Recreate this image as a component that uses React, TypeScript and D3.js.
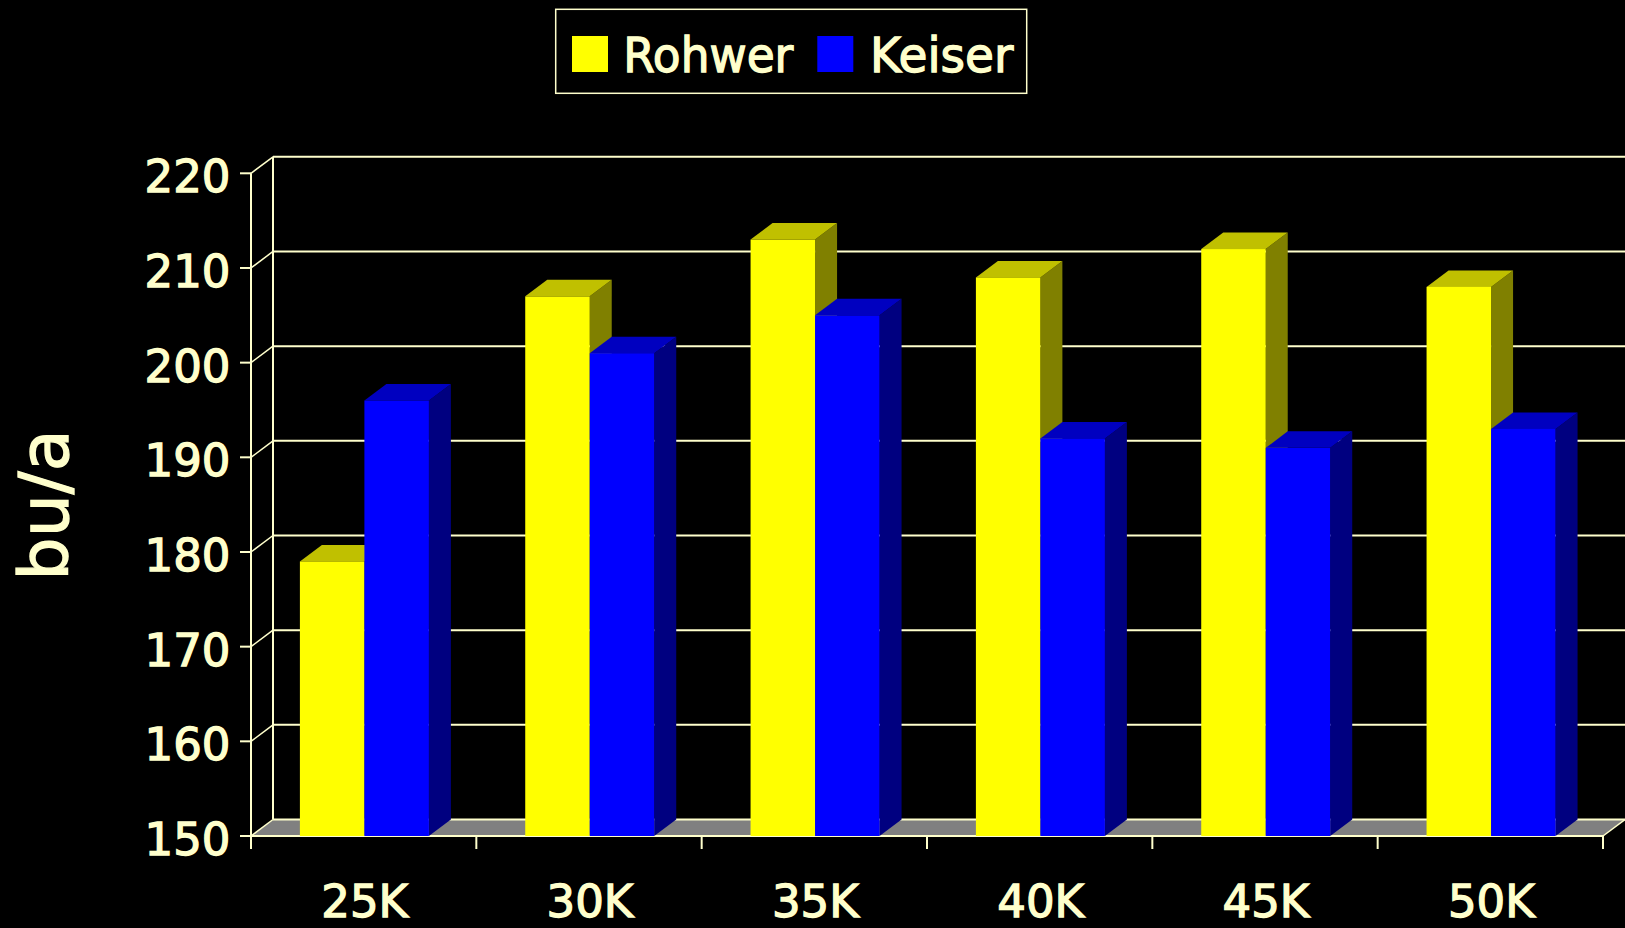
import React from "react";
import * as d3 from "d3";

const categories = ["25K", "30K", "35K", "40K", "45K", "50K"];
const seriesNames = ["Rohwer", "Keiser"];
const rohwer = [179, 207, 213, 209, 212, 208];
const keiser = [196, 201, 205, 192, 191, 193];
const yTicks = [150, 160, 170, 180, 190, 200, 210, 220];

const W = 1625;
const H = 928;
const DX = 22;
const DY = 16.5;
const CREAM = "#FFFFCC";
const FONT = "'DejaVu Sans', Verdana, sans-serif";
const TS = 1.3;

const frontColors = ["#FFFF00", "#0000FF"];
const topColors = ["#C0C000", "#0000C0"];
const sideColors = ["#808000", "#000080"];

export default function App() {
  const x = d3.scaleBand<string>().domain(categories).range([251, 1603]).padding(0);
  const y = d3.scaleLinear().domain([150, 220]).range([836, 173.3]);
  const bw = x.bandwidth();
  const sub = d3.scaleBand<string>().domain(seriesNames).range([bw * 0.217, bw * 0.217 + 129]).padding(0);
  const w = sub.bandwidth();
  const y0 = y(150);
  const xL = x.range()[0];
  const xR = x.range()[1];
  const data = [rohwer, keiser];

  return (
    <svg width={W} height={H} style={{ position: "absolute", left: 0, top: 0, background: "#000" }}>
      <rect x={0} y={0} width={W} height={H} fill="#000" />
      {/* floor */}
      <polygon
        points={`${xL},${y0} ${xR},${y0} ${xR + DX},${y0 - DY} ${xL + DX},${y0 - DY}`}
        fill="#808080"
      />
      {/* back gridlines, left wall diagonals, ticks */}
      {yTicks.map((t) => (
        <g key={t}>
          <line x1={xL + DX} x2={W} y1={y(t) - DY} y2={y(t) - DY} stroke={CREAM} strokeWidth={2} />
          <line x1={xL} x2={xL + DX} y1={y(t)} y2={y(t) - DY} stroke={CREAM} strokeWidth={1.5} />
          <line x1={240} x2={xL} y1={y(t)} y2={y(t)} stroke={CREAM} strokeWidth={2} />
          <text
            x={230.5}
            y={y(t) + 19}
            textAnchor="end"
            fill={CREAM}
            stroke={CREAM}
            strokeWidth={TS}
            fontFamily={FONT}
            fontSize={45}
          >
            {t}
          </text>
        </g>
      ))}
      <line x1={xL + DX} x2={xL + DX} y1={y(220) - DY} y2={y(150) - DY} stroke={CREAM} strokeWidth={2} />
      <line x1={xL} x2={xL} y1={y(220)} y2={849} stroke={CREAM} strokeWidth={2} />
      <line x1={xL} x2={xR} y1={y0} y2={y0} stroke={CREAM} strokeWidth={2} />
      <line x1={xR} x2={xR + DX} y1={y0} y2={y0 - DY} stroke={CREAM} strokeWidth={1.5} />
      {d3.range(categories.length + 1).map((i) => (
        <line key={i} x1={xL + i * bw} x2={xL + i * bw} y1={y0} y2={849} stroke={CREAM} strokeWidth={2} />
      ))}
      {/* bars */}
      {categories.map((c, i) => (
        <g key={c}>
          {seriesNames.map((s, j) => {
            const v = data[j][i];
            const x0 = (x(c) as number) + (sub(s) as number);
            const yt = y(v);
            return (
              <g key={s}>
                <polygon
                  points={`${x0 + w},${yt} ${x0 + w + DX},${yt - DY} ${x0 + w + DX},${y0 - DY} ${x0 + w},${y0}`}
                  fill={sideColors[j]}
                />
                <polygon
                  points={`${x0},${yt} ${x0 + w},${yt} ${x0 + w + DX},${yt - DY} ${x0 + DX},${yt - DY}`}
                  fill={topColors[j]}
                />
                <rect x={x0} y={yt} width={w} height={y0 - yt} fill={frontColors[j]} />
              </g>
            );
          })}
        </g>
      ))}
      {/* x labels */}
      {categories.map((c) => (
        <text
          key={c}
          x={(x(c) as number) + bw / 2 + 1}
          y={917}
          textAnchor="middle"
          fill={CREAM}
          stroke={CREAM}
          strokeWidth={TS}
          fontFamily={FONT}
          fontSize={45}
        >
          {c}
        </text>
      ))}
      {/* y title */}
      <text
        transform={`translate(68,505) rotate(-90)`}
        textAnchor="middle"
        fill={CREAM}
        stroke={CREAM}
        strokeWidth={TS}
        fontFamily={FONT}
        fontSize={68}
      >
        bu/a
      </text>
      {/* legend */}
      <rect x={555.7} y={9.3} width={471} height={84} fill="none" stroke={CREAM} strokeWidth={1.5} />
      <rect x={572} y={36} width={36} height={36} fill={frontColors[0]} />
      <text x={623.3} y={71.7} fill={CREAM} stroke={CREAM} strokeWidth={TS} fontFamily={FONT} fontSize={48} textLength={170} lengthAdjust="spacingAndGlyphs">
        {seriesNames[0]}
      </text>
      <rect x={817.3} y={36} width={36} height={36} fill={frontColors[1]} />
      <text x={870} y={71.7} fill={CREAM} stroke={CREAM} strokeWidth={TS} fontFamily={FONT} fontSize={48} textLength={143.3} lengthAdjust="spacingAndGlyphs">
        {seriesNames[1]}
      </text>
    </svg>
  );
}
